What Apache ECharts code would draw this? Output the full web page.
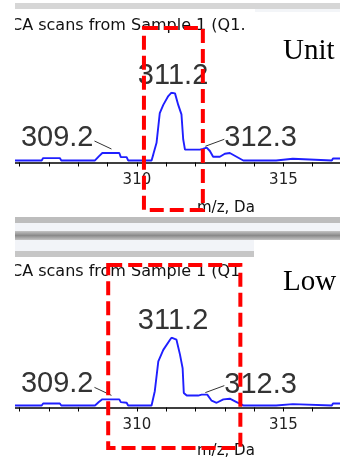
<!DOCTYPE html>
<html>
<head>
<meta charset="utf-8">
<style>
  html, body { margin: 0; padding: 0; background: #fff; }
  #chart { width: 340px; height: 461px; }
</style>
</head>
<body>
<div id="chart"></div>
<script src="https://cdn.jsdelivr.net/npm/echarts@6/dist/echarts.min.js"></script>
<script>
// m/z window shown on both scans
const mzRange = [305.84, 316.93]
const tickValues = [306, 307, 308, 309, 310, 311, 312, 313, 314, 315, 316]
const labelValues = [310, 315]

const unitScan = [
  [305.84, 0], [306.75, 0], [306.8, 3.5], [307.37, 3.5], [307.42, 0],
  [308.57, 0], [308.7, 6], [308.82, 11], [309.4, 11], [309.45, 5], [309.65, 5], [309.7, 0],
  [310.5, 0], [310.56, 9], [310.67, 26], [310.78, 70], [310.9, 82], [311.07, 95],
  [311.18, 100], [311.3, 99], [311.41, 82], [311.52, 68], [311.58, 31], [311.64, 16],
  [312.15, 16], [312.25, 17], [312.38, 19], [312.49, 14], [312.6, 5.5], [312.83, 5.5],
  [313.0, 10], [313.17, 11], [313.4, 5.5], [313.63, 0],
  [314.75, 0], [314.78, 2.5], [315.32, 2.5], [315.36, 0],
  [316.65, 0], [316.69, 3], [316.93, 3]
]

const lowScan = [
  [305.84, 0], [306.75, 0], [306.8, 3], [307.37, 3], [307.42, 0],
  [308.57, 0], [308.7, 5], [308.82, 9], [309.4, 9], [309.45, 5], [309.65, 4], [309.7, 0],
  [310.5, 0], [310.61, 21], [310.73, 65], [310.9, 82], [311.13, 97], [311.18, 100],
  [311.35, 97], [311.47, 75], [311.56, 55], [311.6, 18.5], [311.7, 14.6], [312.09, 14.6],
  [312.21, 16], [312.4, 16], [312.55, 7], [312.72, 4], [312.95, 9], [313.17, 10],
  [313.4, 5], [313.63, 0],
  [314.75, 0], [314.78, 2], [315.32, 2], [315.36, 0],
  [316.65, 0], [316.69, 3], [316.93, 3]
]

// labelled peaks [m/z, intensity %]
const unitPeaks = [[309.2, 11], [311.2, 100], [312.3, 18]]
const lowPeaks = [[309.2, 9], [311.2, 100], [312.3, 16]]

// m/z windows marked with the red dashed boxes
const unitWindow = [310.24, 312.25]
const lowWindow = [309.02, 313.53]

const scanTitles = ['CA scans from Sample 1 (Q1.', 'CA scans from Sample 1 (Q1']
const modeNames = ['Unit', 'Low']
const axisName = 'm/z, Da'

const chart = echarts.init(document.getElementById('chart'))

const makeXAxis = (gridIndex) => ({
  gridIndex,
  type: 'value',
  min: mzRange[0],
  max: mzRange[1],
  axisLine: { onZero: false, lineStyle: { color: '#000', width: 1.5 } },
  axisTick: { customValues: tickValues, length: 4, lineStyle: { color: '#000', width: 1 } },
  axisLabel: {
    customValues: labelValues,
    margin: 10,
    fontFamily: 'DejaVu Sans',
    fontSize: 15,
    color: '#222'
  },
  splitLine: { show: false }
})

const makeYAxis = (gridIndex) => ({
  gridIndex,
  type: 'value',
  min: -3,
  max: 100,
  show: false
})

const makeSeries = (data, idx) => ({
  type: 'line',
  xAxisIndex: idx,
  yAxisIndex: idx,
  data,
  showSymbol: false,
  symbol: 'none',
  lineStyle: { color: '#1f1fff', width: 1.9 },
  z: 3
})

chart.setOption({
  animation: false,
  grid: [
    { left: 15, right: 0, top: 92.7, bottom: 298.5 },
    { left: 15, right: 0, top: 337.7, bottom: 53.5 }
  ],
  xAxis: [makeXAxis(0), makeXAxis(1)],
  yAxis: [makeYAxis(0), makeYAxis(1)],
  series: [makeSeries(unitScan, 0), makeSeries(lowScan, 1)]
})

const labelFont = '29px "Liberation Sans"'
const textColor = '#333'

// peak labels with their short leader lines
const peakGraphics = (peaks, gridIndex) => {
  const out = []
  peaks.forEach((p, i) => {
    const [px, py] = chart.convertToPixel({ gridIndex }, p)
    const text = p[0].toFixed(1)
    if (i === 0) {
      out.push({ type: 'line', shape: { x1: px - 19, y1: py - 12, x2: px - 2, y2: py - 4 }, style: { stroke: '#333', lineWidth: 1 }, z: 10 })
      out.push({ type: 'text', x: px - 20, y: py - 15, style: { text, font: labelFont, fill: textColor, textAlign: 'right', textVerticalAlign: 'middle' }, z: 10 })
    } else if (i === 1) {
      out.push({ type: 'text', x: px + 1, y: py - 17, style: { text, font: labelFont, fill: textColor, textAlign: 'center', textVerticalAlign: 'middle' }, z: 10 })
    } else {
      out.push({ type: 'line', shape: { x1: px + 1, y1: py - 2, x2: px + 20, y2: py - 9 }, style: { stroke: '#333', lineWidth: 1 }, z: 10 })
      out.push({ type: 'text', x: px + 20, y: py - 10, style: { text, font: labelFont, fill: textColor, textAlign: 'left', textVerticalAlign: 'middle' }, z: 10 })
    }
  })
  return out
}

const windowBox = (win, gridIndex, top, bottom) => {
  const x1 = chart.convertToPixel({ xAxisIndex: gridIndex }, win[0])
  const x2 = chart.convertToPixel({ xAxisIndex: gridIndex }, win[1])
  return {
    type: 'rect',
    shape: { x: x1, y: top, width: x2 - x1, height: bottom - top },
    style: { fill: 'none', stroke: '#ff0000', lineWidth: 4, lineDash: [14, 6] },
    z: 20
  }
}

const rect = (x, y, w, h, fill, z = 1) => ({ type: 'rect', shape: { x, y, width: w, height: h }, style: { fill }, z })

const titleFont = '16px "DejaVu Sans"'

chart.setOption({
  graphic: [
    // window frame bars
    rect(15, 3, 325, 6, '#d6d6d6'),
    rect(255, 9, 85, 3, '#f3f5f8'),
    rect(15, 217, 325, 6, '#bdbdbd'),
    rect(15, 223, 325, 8, '#f2f4f8'),
    {
      type: 'rect', shape: { x: 15, y: 231, width: 325, height: 9 }, z: 1,
      style: { fill: new echarts.graphic.LinearGradient(0, 0, 0, 1, [
        { offset: 0, color: '#c4c4c4' }, { offset: 0.5, color: '#8a8a8a' }, { offset: 1, color: '#c4c4c4' }
      ]) }
    },
    rect(15, 240, 239, 11, '#f2f4f8'),
    rect(15, 251, 239, 6, '#c6c6c6'),

    { type: 'text', x: 11, y: 26, style: { text: scanTitles[0], font: titleFont, fill: '#111', textVerticalAlign: 'middle' }, z: 5 },
    { type: 'text', x: 11, y: 272, style: { text: scanTitles[1], font: titleFont, fill: '#111', textVerticalAlign: 'middle' }, z: 5 },
    { type: 'text', x: 283, y: 51, style: { text: modeNames[0], font: '29px "Liberation Serif"', fill: '#000', textVerticalAlign: 'middle' }, z: 5 },
    { type: 'text', x: 283, y: 282, style: { text: modeNames[1], font: '29px "Liberation Serif"', fill: '#000', textVerticalAlign: 'middle' }, z: 5 },
    { type: 'text', x: 197, y: 208, style: { text: axisName, font: '15px "DejaVu Sans"', fill: '#111', textVerticalAlign: 'middle' }, z: 5 },
    { type: 'text', x: 197, y: 451, style: { text: axisName, font: '15px "DejaVu Sans"', fill: '#111', textVerticalAlign: 'middle' }, z: 5 },

    ...peakGraphics(unitPeaks, 0),
    ...peakGraphics(lowPeaks, 1),

    windowBox(unitWindow, 0, 28, 210),
    windowBox(lowWindow, 1, 265, 448),

    // screenshot crop on the left
    rect(0, 0, 15, 461, '#fff', 100)
  ]
})
</script>
</body>
</html>
